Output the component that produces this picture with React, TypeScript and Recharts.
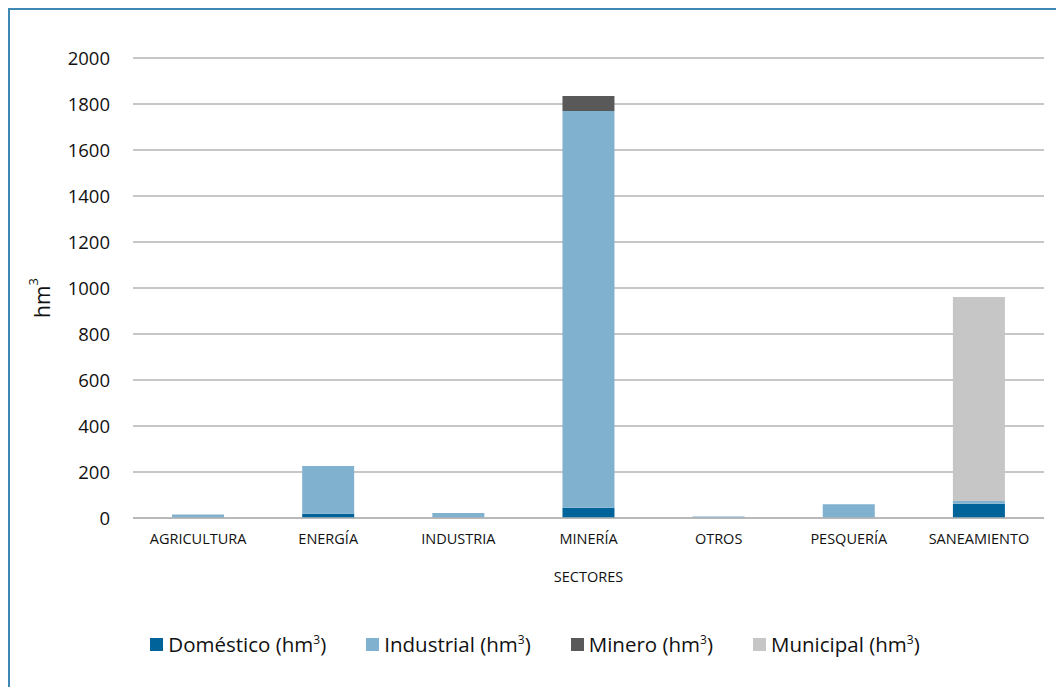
import React from 'react';
import {
  BarChart,
  Bar,
  XAxis,
  YAxis,
  CartesianGrid,
  Label,
} from 'recharts';

// sectores y volúmenes (hm³)
const sectores = ['AGRICULTURA', 'ENERGÍA', 'INDUSTRIA', 'MINERÍA', 'OTROS', 'PESQUERÍA', 'SANEAMIENTO'];
const domestico = [0, 18, 0, 45, 0, 0, 62];
const industrial = [15, 208, 22, 1725, 6, 60, 12];
const minero = [0, 0, 0, 65, 0, 0, 0];
const municipal = [0, 0, 0, 0, 0, 0, 887];
const yTicks = [0, 200, 400, 600, 800, 1000, 1200, 1400, 1600, 1800, 2000];

const series = [
  { key: 'domestico', name: 'Doméstico', color: '#006399' },
  { key: 'industrial', name: 'Industrial', color: '#80b1cf' },
  { key: 'minero', name: 'Minero', color: '#595959' },
  { key: 'municipal', name: 'Municipal', color: '#c6c6c6' },
];

const data = sectores.map((s, i) => ({
  sector: s,
  domestico: domestico[i],
  industrial: industrial[i],
  minero: minero[i],
  municipal: municipal[i],
}));

const FONT = '"Open Sans", sans-serif';

function YLabel() {
  const cx = 42;
  const cy = 298;
  return (
    <text
      x={cx}
      y={cy}
      transform={`rotate(-90 ${cx} ${cy})`}
      textAnchor="middle"
      dominantBaseline="central"
      style={{ fontFamily: FONT, fontSize: 21, fill: '#111' }}
    >
      hm<tspan dy={-9} fontSize={13}>3</tspan>
    </text>
  );
}

export default function App() {
  return (
    <div style={{ position: 'absolute', left: 0, top: 0, width: 1056, height: 687, background: '#fff', overflow: 'hidden' }}>
      <div
        style={{
          position: 'absolute',
          left: 8,
          top: 8,
          width: 1100,
          height: 700,
          borderLeft: '2px solid #3f88b5',
          borderTop: '2px solid #3f88b5',
        }}
      />
      <BarChart
        width={1056}
        height={687}
        data={data}
        margin={{ top: 58, right: 12, left: 0, bottom: 99 }}
        barCategoryGap="30%"
        style={{ position: 'absolute', left: 0, top: 0 }}
      >
        <CartesianGrid vertical={false} stroke="#b5b5b5" strokeWidth={1.5} />
        <XAxis
          dataKey="sector"
          tickLine={false}
          axisLine={{ stroke: '#b5b5b5', strokeWidth: 1.5 }}
          tick={{ fontSize: 14.5, fill: '#111', fontFamily: FONT }}
          tickMargin={10}
          interval={0}
          height={70}
        >
          <Label
            value="SECTORES"
            position="insideBottom"
            offset={6}
            style={{ fontSize: 14.5, fill: '#111', fontFamily: FONT }}
          />
        </XAxis>
        <YAxis
          domain={[0, 2000]}
          ticks={yTicks}
          width={133}
          axisLine={false}
          tickLine={false}
          tickSize={0}
          tickMargin={23}
          tick={{ fontSize: 18.5, fill: '#111', fontFamily: FONT }}
          label={<YLabel />}
        />
        {series.map((s) => (
          <Bar
            key={s.key}
            dataKey={s.key}
            name={s.name}
            stackId="a"
            fill={s.color}
            isAnimationActive={false}
          />
        ))}
      </BarChart>
      <div
        style={{
          position: 'absolute',
          left: 0,
          top: 630,
          width: 1056,
          display: 'flex',
          justifyContent: 'center',
          gap: 40,
          fontFamily: FONT,
          fontSize: 20.5,
          color: '#111',
          paddingLeft: 14,
          boxSizing: 'border-box',
        }}
      >
        {series.map((s) => (
          <div key={s.key} style={{ display: 'flex', alignItems: 'center' }}>
            <span style={{ display: 'inline-block', width: 13, height: 13, background: s.color, marginRight: 5 }} />
            <span>
              {s.name} (hm<sup style={{ fontSize: 12 }}>3</sup>)
            </span>
          </div>
        ))}
      </div>
    </div>
  );
}
